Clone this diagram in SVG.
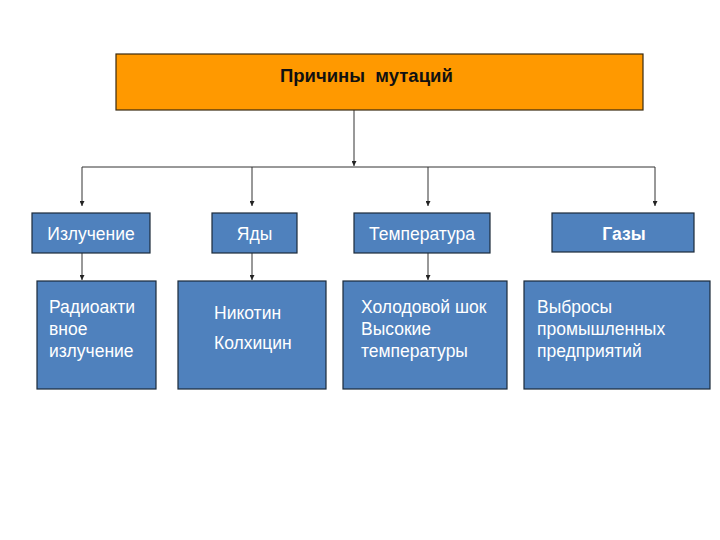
<svg xmlns="http://www.w3.org/2000/svg" width="720" height="540" viewBox="0 0 720 540">
<defs>
<marker id="arr" viewBox="0 0 6 6" refX="6" refY="3" markerWidth="5" markerHeight="5" orient="auto" markerUnits="userSpaceOnUse">
<path d="M0,0 L6,3 L0,6 Z" fill="#222"/>
</marker>
<style>
.box{fill:#4F81BD;stroke:#1c2a3a;stroke-width:1.2}
.t{font-family:"Liberation Sans",Arial,sans-serif;font-size:17.5px;fill:#fff}
.ln{stroke:#333;stroke-width:1;fill:none}
</style>
</defs>
<rect width="720" height="540" fill="#fff"/>
<g id="connectors">
<line class="ln" x1="354" y1="110" x2="354" y2="166" marker-end="url(#arr)"/>
<line class="ln" x1="82" y1="167" x2="655" y2="167"/>
<line class="ln" x1="82" y1="167" x2="82" y2="206" marker-end="url(#arr)"/>
<line class="ln" x1="252" y1="167" x2="252" y2="206" marker-end="url(#arr)"/>
<line class="ln" x1="428" y1="167" x2="428" y2="206" marker-end="url(#arr)"/>
<line class="ln" x1="655" y1="167" x2="655" y2="206" marker-end="url(#arr)"/>
<line class="ln" x1="82" y1="253" x2="82" y2="280" marker-end="url(#arr)"/>
<line class="ln" x1="252" y1="253" x2="252" y2="280" marker-end="url(#arr)"/>
<line class="ln" x1="428" y1="253" x2="428" y2="280" marker-end="url(#arr)"/>
</g>
<g id="root">
<rect x="116" y="54" width="527" height="56" fill="#FF9900" stroke="#3a2a10" stroke-width="1.2"/>
<text x="280" y="82" font-family="Liberation Sans,Arial,sans-serif" font-size="18.5" font-weight="bold" fill="#111" xml:space="preserve">Причины  мутаций</text>
</g>
<g id="izluchenie">
<rect class="box" x="32" y="213" width="118" height="40"/>
<text class="t" x="91" y="240" text-anchor="middle">Излучение</text>
</g>
<g id="yady">
<rect class="box" x="212" y="213" width="85" height="40"/>
<text class="t" x="254.5" y="240" text-anchor="middle">Яды</text>
</g>
<g id="temperatura">
<rect class="box" x="354" y="213" width="136" height="40"/>
<text class="t" x="422" y="240" text-anchor="middle">Температура</text>
</g>
<g id="gazy">
<rect class="box" x="552" y="213" width="142" height="39"/>
<text class="t" x="624" y="240" text-anchor="middle" font-weight="bold" font-size="16">Газы</text>
</g>
<g id="radio">
<rect class="box" x="37" y="281" width="119" height="108"/>
<text class="t" x="49" y="313">Радиоакти</text>
<text class="t" x="49" y="335">вное</text>
<text class="t" x="49" y="357">излучение</text>
</g>
<g id="nikotin">
<rect class="box" x="178" y="281" width="148" height="108"/>
<text class="t" x="214" y="319">Никотин</text>
<text class="t" x="214" y="349">Колхицин</text>
</g>
<g id="holod">
<rect class="box" x="343" y="281" width="164" height="108"/>
<text class="t" x="361" y="313">Холодовой шок</text>
<text class="t" x="361" y="335">Высокие</text>
<text class="t" x="361" y="357">температуры</text>
</g>
<g id="vybrosy">
<rect class="box" x="524" y="281" width="186" height="108"/>
<text class="t" x="537" y="313">Выбросы</text>
<text class="t" x="537" y="335">промышленных</text>
<text class="t" x="537" y="357">предприятий</text>
</g>
</svg>
